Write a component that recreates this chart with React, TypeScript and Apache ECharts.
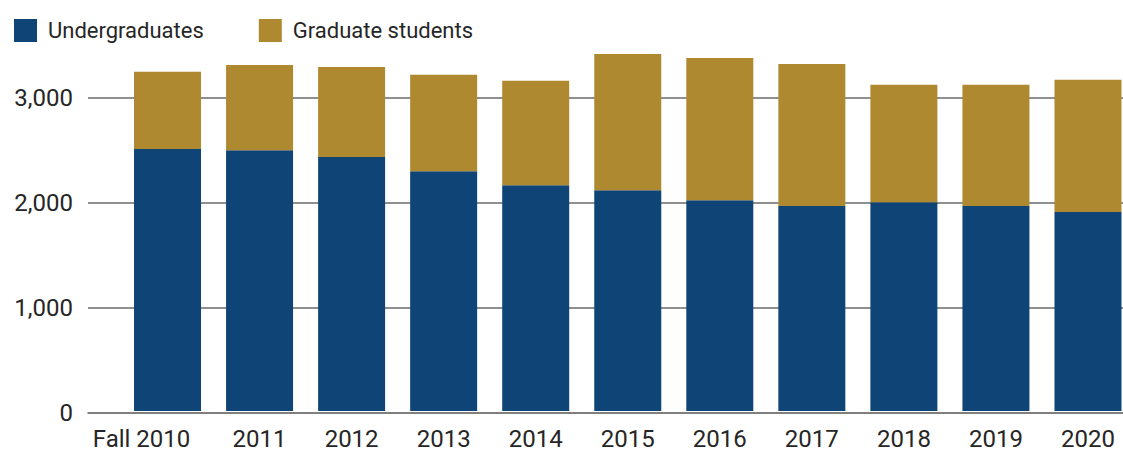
import React, { useEffect, useRef } from "react";
import * as echarts from "echarts";

const categories = ["Fall 2010", "2011", "2012", "2013", "2014", "2015", "2016", "2017", "2018", "2019", "2020"];
const undergraduates = [2508, 2498, 2432, 2295, 2162, 2114, 2019, 1962, 2000, 1962, 1905];
const graduates = [740, 816, 863, 924, 1000, 1305, 1362, 1362, 1124, 1162, 1266];
const yTicks = [0, 1000, 2000, 3000];

const BLUE = "#0f4476";
const GOLD = "#af892f";
const FONT = "Roboto";
const TXT = "#262626";
const CHART_W = 1134;

export default function App() {
  const ref = useRef<HTMLDivElement>(null);
  useEffect(() => {
    document.body.style.overflow = "hidden";
    if (!ref.current) return;
    const chart = echarts.init(ref.current, null, { renderer: "svg" });
    const top = 45.5;
    const bottom = 38;
    chart.setOption({
      animation: false,
      textStyle: { fontFamily: FONT },
      legend: {
        left: 9,
        top: 14,
        itemWidth: 23,
        itemHeight: 23,
        itemGap: 55,
        icon: "rect",
        textStyle: { fontSize: 22, color: TXT, fontFamily: FONT, padding: [0, 0, 0, 6] },
        data: ["Undergraduates", "Graduate students"],
      },
      grid: [
        { left: 121.5, right: 0, top, bottom, containLabel: false },
        { left: 88, right: CHART_W - 1123, top, bottom, containLabel: false },
      ],
      xAxis: [
        {
          type: "category",
          gridIndex: 0,
          data: categories,
          axisLine: { show: false },
          axisTick: { show: false },
          axisLabel: {
            color: TXT,
            fontSize: 24,
            fontFamily: FONT,
            margin: 16,
            interval: 0,
            formatter: (v: string, i: number) => (i === 0 ? "{a|" + v + "}{s|}" : v),
            rich: {
              a: { fontSize: 24, color: TXT, fontFamily: FONT },
              s: { width: 52 },
            },
          },
        },
        {
          type: "value",
          gridIndex: 1,
          min: 0,
          max: 1,
          z: 10,
          axisLine: { show: true, onZero: false, lineStyle: { color: "#555", width: 1.5 } },
          axisTick: { show: false },
          axisLabel: { show: false },
          splitLine: { show: false },
        },
      ],
      yAxis: [
        {
          type: "value",
          gridIndex: 0,
          min: 0,
          max: 3500,
          interval: 1000,
          show: false,
          splitLine: { show: false },
        },
        {
          type: "value",
          gridIndex: 1,
          min: yTicks[0],
          max: 3500,
          interval: 1000,
          axisLine: { show: false },
          axisTick: { show: false },
          axisLabel: {
            color: TXT,
            fontSize: 24,
            fontFamily: FONT,
            margin: 15,
            padding: [6, 0, 0, 0],
            showMaxLabel: false,
            formatter: (v: number) => (yTicks.includes(v) ? v.toLocaleString("en-US") : ""),
          },
          splitLine: {
            show: true,
            showMinLine: false,
            showMaxLine: false,
            lineStyle: { color: "#8f8f8f", width: 2 },
          },
        },
      ],
      series: [
        {
          name: "Undergraduates",
          type: "bar",
          stack: "total",
          xAxisIndex: 0,
          yAxisIndex: 0,
          barWidth: 67,
          itemStyle: { color: BLUE },
          data: undergraduates,
        },
        {
          name: "Graduate students",
          type: "bar",
          stack: "total",
          xAxisIndex: 0,
          yAxisIndex: 0,
          barWidth: 67,
          itemStyle: { color: GOLD },
          data: graduates,
        },
      ],
    });
    return () => chart.dispose();
  }, []);
  return (
    <div
      ref={ref}
      style={{ position: "fixed", left: 0, top: 0, width: CHART_W, height: 451, background: "#fff" }}
    />
  );
}
